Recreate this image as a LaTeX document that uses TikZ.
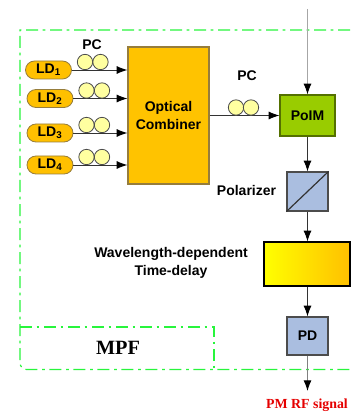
\documentclass[tikz,border=0pt]{standalone}
\usepackage{fontspec}
\setmainfont{Liberation Sans}
\newfontfamily\serifbf{Liberation Serif}[BoldFont={Liberation Serif Bold}]
\usetikzlibrary{
  arrows.meta,
  shapes.misc
}
\definecolor{laseramber}{RGB}{255,192,0}
\definecolor{laseredge}{RGB}{150,125,60}
\definecolor{coilyellow}{RGB}{255,255,160}
\definecolor{modgreen}{RGB}{153,204,0}
\definecolor{pasteblue}{RGB}{170,190,224}
\definecolor{framegreen}{RGB}{40,245,60}
\tikzset{
  labeltext/.style={font=\fontsize{10.5}{13.5}\selectfont\bfseries, align=center, inner sep=0pt},
  ldbox/.style={rounded rectangle, draw=laseredge, fill=laseramber, line width=0.6pt,
    minimum width=34.5pt, minimum height=13.5pt, inner sep=0pt,
    font=\fontsize{10.5}{12}\selectfont\bfseries},
  coil/.style={circle, draw=black!70, fill=coilyellow, line width=0.6pt,
    minimum size=11.5pt, inner sep=0pt},
  fiber/.style={line width=0.7pt, color=black!80, -{Latex[length=8pt,width=6pt,black]}},
  blockbox/.style={rectangle, draw=black!70, line width=0.9pt, inner sep=0pt,
    font=\fontsize{10.5}{13.5}\selectfont\bfseries, align=center},
  frameline/.style={color=framegreen, line width=0.9pt,
    dash pattern=on 9pt off 3.5pt on 2pt off 3.5pt}
}

\begin{document}
\begin{tikzpicture}[x=0.75pt,y=-0.75pt]
  \useasboundingbox (0,0) rectangle (350,413);

  % Dashed frame of the filter
  \draw[frameline] (350,30) -- (20,30) [rounded corners=5pt] -- (20,369.5) -- (350,369.5);
  \draw[frameline] (20,327) -- (214,327) -- (214,369.5);
  \node[font=\fontsize{15.2}{18}\selectfont\serifbf\bfseries, inner sep=0pt] (mpf) at (118,348) {MPF};

  % Main blocks
  \node[blockbox, draw=laseredge, fill=laseramber!95!yellow, minimum width=60.75pt, minimum height=102.75pt]
    (comb) at (168.5,115.5) {Optical\\Combiner};
  \node[blockbox, draw=black!45!modgreen, fill=modgreen, minimum width=41.25pt, minimum height=30.75pt]
    (polm) at (307.5,115.5) {PoIM};
  \node[blockbox, fill=pasteblue, minimum width=30.75pt, minimum height=29.25pt]
    (pol) at (307.5,191.5) {};
  \draw[line width=0.9pt, color=black!80] (pol.south west) -- (pol.north east);
  \node[blockbox, draw=black, left color=yellow, right color=laseramber, minimum width=64.5pt, minimum height=33pt]
    (delay) at (307,264) {};
  \node[blockbox, fill=pasteblue, minimum width=30.75pt, minimum height=28.5pt]
    (pd) at (307.5,336) {PD};

  % Four lasers with their controllers
  \foreach \k/\xa/\ya in {
    1/48.5/70,
    2/50/98.5,
    3/50/133,
    4/50/165
  }{
    \node[ldbox] (LD\k) at (\xa,\ya) {LD\textsubscript{\k}};
    \draw[fiber] (LD\k.east) -- (LD\k.east -| comb.west);
    \node[coil] (PCa\k) at (\xa+36.5,\ya-8) {};
    \node[coil] (PCb\k) at (\xa+52,\ya-8) {};
  }

  % Controller before the modulator
  \draw[fiber] (polm.west -| comb.east) -- (polm.west);
  \node[coil] (PCa5) at (236,107.5) {};
  \node[coil] (PCb5) at (251,107.5) {};

  % Signal path
  \coordinate (rfin) at (307.5,9);
  \coordinate (rfout) at (307.5,391);
  \draw[fiber, color=black!35] (rfin) -- (polm);
  \draw[fiber] (polm) -- (pol);
  \draw[fiber] (pol) -- (pol |- delay.north);
  \draw[fiber] (pol |- delay.south) -- (pd);
  \draw[fiber, color=black!50] (pd) -- (rfout);

  % Labels
  \node[labeltext] (pclabel) at (92,45) {PC};
  \node[labeltext] (pcmod) at (247,76) {PC};
  \node[labeltext] (pollabel) at (246.5,190) {Polarizer};
  \node[labeltext] (delaylabel) at (171,263) {Wavelength-dependent\\Time-delay};
  \node[font=\fontsize{10.4}{12}\selectfont\serifbf\bfseries, color=red!90!black, inner sep=0pt]
    (rfsignal) at (307,405) {PM RF signal};
\end{tikzpicture}
\end{document}
